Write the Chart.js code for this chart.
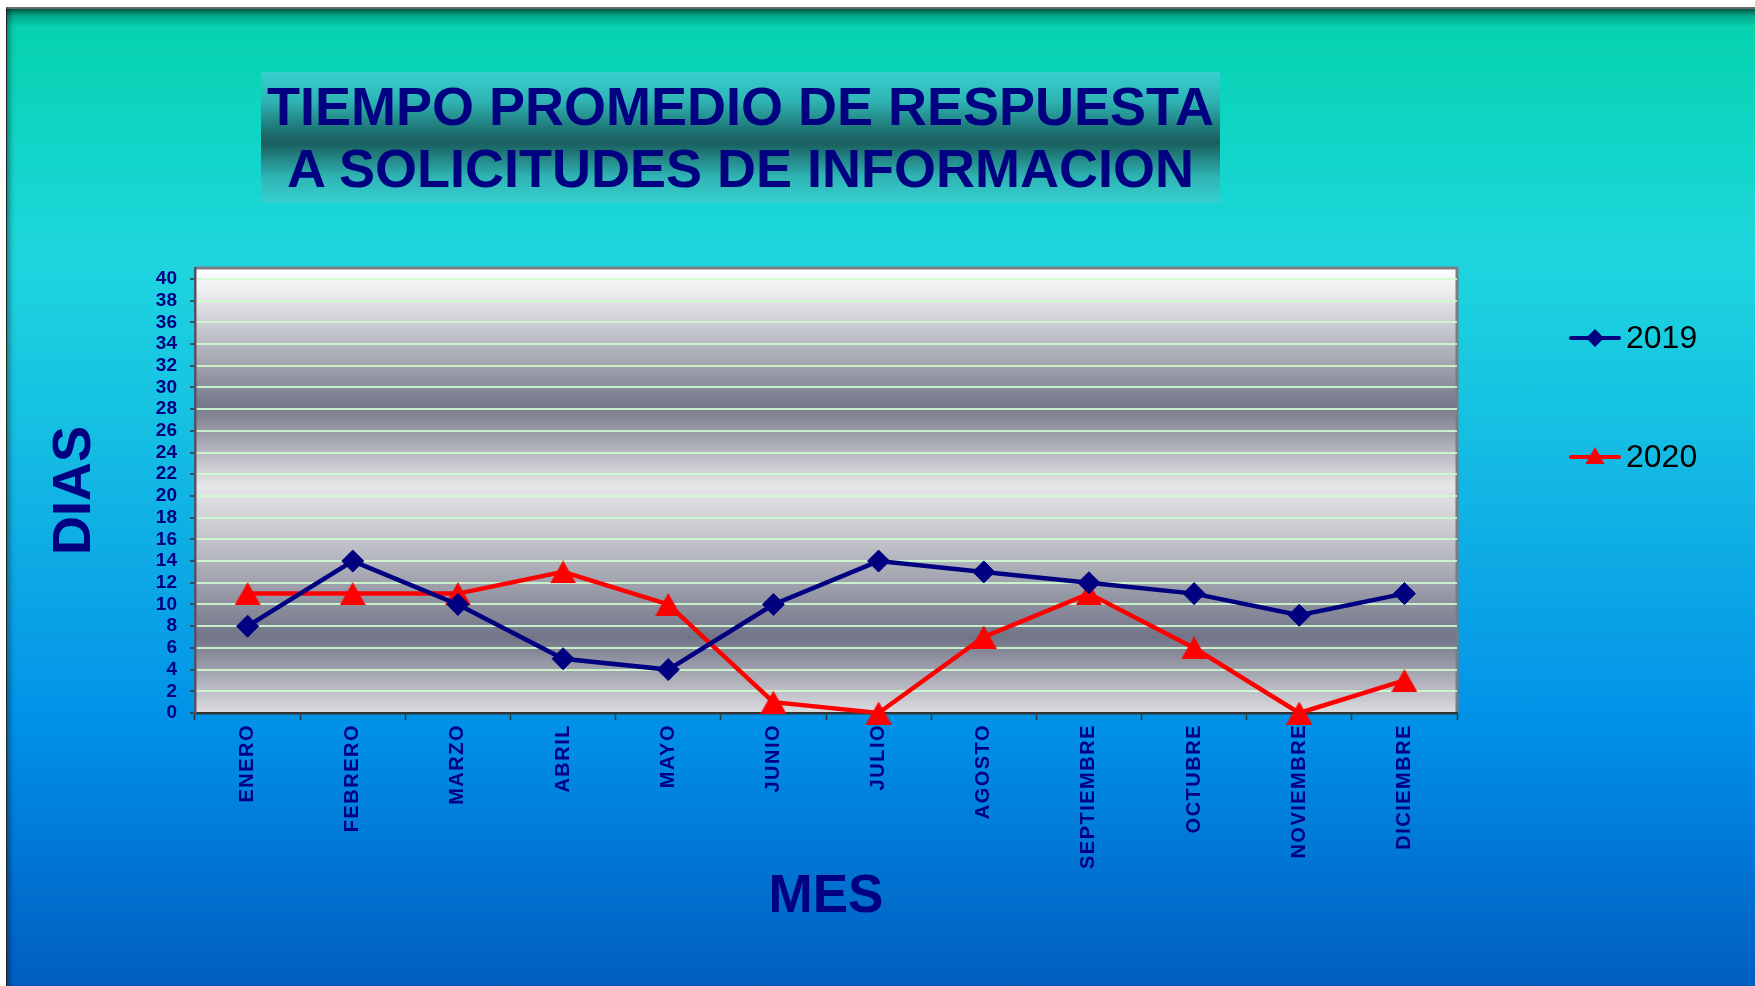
<!DOCTYPE html>
<html>
<head>
<meta charset="utf-8">
<script src="https://cdn.jsdelivr.net/npm/chart.js@4.4.0/dist/chart.umd.min.js"></script>
<style>
    html, body { margin: 0; padding: 0; background: #fff; }
    body { width: 1755px; height: 986px; position: relative; overflow: hidden; }
    #page {
        position: absolute; left: 6px; top: 7px; width: 1749px; height: 979px;
        border-left: 1px solid #222; border-top: 2px solid #6a6a6a;
        box-sizing: border-box;
        background: linear-gradient(to bottom, #005a48 0px, #04a88c 7px, #06d2ae 18px, #0ed5c2 110px,
            #1ed6de 245px, #16c2e2 400px, #0ca6e6 580px, #0090e8 720px, #0074d2 860px, #005ec2 979px);
        box-shadow: inset 7px 0 6px -5px rgba(0, 0, 0, 0.45);
    }
    #titleBox {
        position: absolute; left: 261px; top: 72px; width: 959px; height: 131px;
        background: linear-gradient(to bottom, #38d0d0 0%, #2fb4b4 22%, #1c6a6a 48%, #1a5e5e 54%, #2fb4b4 80%, #38d0d0 100%);
        color: #000080; font-family: "Liberation Sans", Arial, sans-serif; font-weight: bold;
        font-size: 54px; line-height: 62px; text-align: center; padding-top: 3px; box-sizing: border-box;
    }
    #chartWrap { position: absolute; left: 0; top: 0; width: 1755px; height: 986px; }
</style>
</head>
<body>
<div id="page"></div>
<div id="titleBox">TIEMPO PROMEDIO DE RESPUESTA<br>A SOLICITUDES DE INFORMACION</div>
<div id="chartWrap"><canvas id="myChart" width="1755" height="986"></canvas></div>
<script>
    const months = ['ENERO', 'FEBRERO', 'MARZO', 'ABRIL', 'MAYO', 'JUNIO', 'JULIO',
        'AGOSTO', 'SEPTIEMBRE', 'OCTUBRE', 'NOVIEMBRE', 'DICIEMBRE'];
    const dias2019 = [8, 14, 10, 5, 4, 10, 14, 13, 12, 11, 9, 11];
    const dias2020 = [11, 11, 11, 13, 10, 1, 0, 7, 11, 6, 0, 3];
    const seriesNames = ['2019', '2020'];

    const navy = '#000080';
    const red = '#ff0000';

    // triangle marker centred on its bounding box (like the original)
    function triangleImage(w, h, color) {
        const c = document.createElement('canvas');
        c.width = w;
        c.height = h;
        const t = c.getContext('2d');
        t.fillStyle = color;
        t.beginPath();
        t.moveTo(w / 2, 0);
        t.lineTo(w, h);
        t.lineTo(0, h);
        t.closePath();
        t.fill();
        return c;
    }
    const redTriangle = triangleImage(26, 23, red);

    // gray banded background of the plot area + top/right frame
    const plotBackground = {
        id: 'plotBackground',
        beforeDraw(chart) {
            const { ctx, chartArea: a } = chart;
            const g = ctx.createLinearGradient(0, a.top, 0, a.bottom);
            g.addColorStop(0, '#ffffff');
            g.addColorStop(0.05, '#eeeef0');
            g.addColorStop(0.2, '#a9abb5');
            g.addColorStop(0.31, '#75788a');
            g.addColorStop(0.49, '#e6e6e8');
            g.addColorStop(0.62, '#c0c1c8');
            g.addColorStop(0.83, '#727588');
            g.addColorStop(1, '#dcdce0');
            ctx.save();
            ctx.fillStyle = g;
            ctx.fillRect(a.left, a.top, a.right - a.left, a.bottom - a.top);
            ctx.strokeStyle = '#7c7c80';
            ctx.lineWidth = 3;
            ctx.beginPath();
            ctx.moveTo(a.left, a.top);
            ctx.lineTo(a.right, a.top);
            ctx.lineTo(a.right, a.bottom);
            ctx.stroke();
            ctx.restore();
        }
    };

    // spaced-out month labels
    const spacedLabels = {
        id: 'spacedLabels',
        beforeDraw(chart) {
            const s = chart.scales.x;
            if (s._spaced) return;
            const orig = s.drawLabels;
            s.drawLabels = function (area) {
                this.ctx.save();
                this.ctx.letterSpacing = '1.5px';
                orig.call(this, area);
                this.ctx.restore();
            };
            s._spaced = true;
        }
    };

    function drawMarker(ctx, style, x, y, r, color) {
        ctx.fillStyle = color;
        ctx.beginPath();
        if (style === 'rectRot') {
            ctx.moveTo(x, y - r);
            ctx.lineTo(x + r, y);
            ctx.lineTo(x, y + r);
            ctx.lineTo(x - r, y);
        } else {
            ctx.moveTo(x, y - r);
            ctx.lineTo(x + r * 0.95, y + r * 0.7);
            ctx.lineTo(x - r * 0.95, y + r * 0.7);
        }
        ctx.closePath();
        ctx.fill();
    }

    // legend on the right: line with marker, then year
    const sideLegend = {
        id: 'sideLegend',
        afterDraw(chart) {
            const { ctx } = chart;
            const rows = [338, 457];
            chart.data.datasets.forEach((ds, i) => {
                const y = rows[i];
                const color = ds.borderColor;
                ctx.save();
                ctx.strokeStyle = color;
                ctx.lineWidth = 4;
                ctx.lineCap = 'round';
                ctx.beginPath();
                ctx.moveTo(1571, y);
                ctx.lineTo(1619, y);
                ctx.stroke();
                drawMarker(ctx, ds.pointStyle === 'rectRot' ? 'rectRot' : 'triangle', 1595, y, ds.pointStyle === 'rectRot' ? 9 : 10, color);
                ctx.fillStyle = '#000';
                ctx.font = '32px "Liberation Sans", Arial, sans-serif';
                ctx.textBaseline = 'middle';
                ctx.fillText(ds.label, 1626, y + 1);
                ctx.restore();
            });
        }
    };

    const ctx = document.getElementById('myChart');
    new Chart(ctx, {
        type: 'line',
        data: {
            labels: months,
            datasets: [
                {
                    label: seriesNames[0],
                    data: dias2019,
                    borderColor: navy,
                    backgroundColor: navy,
                    borderWidth: 4.5,
                    pointStyle: 'rectRot',
                    pointRadius: 11,
                    pointBorderWidth: 1,
                    tension: 0,
                    clip: false
                },
                {
                    label: seriesNames[1],
                    data: dias2020,
                    borderColor: red,
                    backgroundColor: red,
                    borderWidth: 4.5,
                    pointStyle: redTriangle,
                    pointRadius: 13,
                    tension: 0,
                    clip: false
                }
            ]
        },
        options: {
            responsive: false,
            animation: false,
            events: [],
            layout: { padding: { left: 43, top: 268, right: 298, bottom: 20 } },
            scales: {
                x: {
                    offset: true,
                    afterFit(scale) { scale.height = 253; },
                    grid: { drawOnChartArea: false, offset: true, tickLength: 7, tickColor: '#333', tickWidth: 1.5 },
                    border: { color: '#333', width: 2.5 },
                    ticks: {
                        color: navy, minRotation: 90, maxRotation: 90, padding: 4, autoSkip: false,
                        font: { family: '"Liberation Sans", Arial, sans-serif', weight: 'bold', size: 20 }
                    },
                    title: {
                        display: true, text: 'MES', color: navy, padding: { top: 0, bottom: 37 },
                        font: { family: '"Liberation Sans", Arial, sans-serif', weight: 'bold', size: 53 }
                    }
                },
                y: {
                    min: 0,
                    max: 41,
                    afterFit(scale) { scale.width = 152; },
                    grid: { color: 'rgba(205, 250, 205, 0.9)', lineWidth: 2, tickLength: 5, tickColor: '#333', tickWidth: 1.5 },
                    border: { color: '#50546a', width: 2.5 },
                    ticks: {
                        stepSize: 2, includeBounds: false, autoSkip: false, color: navy, padding: 13,
                        font: { family: '"Liberation Sans", Arial, sans-serif', weight: 'bold', size: 19 }
                    },
                    title: {
                        display: true, text: 'DIAS', color: navy, padding: 0,
                        font: { family: '"Liberation Sans", Arial, sans-serif', weight: 'bold', size: 54 }
                    }
                }
            },
            plugins: {
                legend: { display: false },
                tooltip: { enabled: false }
            }
        },
        plugins: [plotBackground, spacedLabels, sideLegend]
    });
</script>
</body>
</html>
